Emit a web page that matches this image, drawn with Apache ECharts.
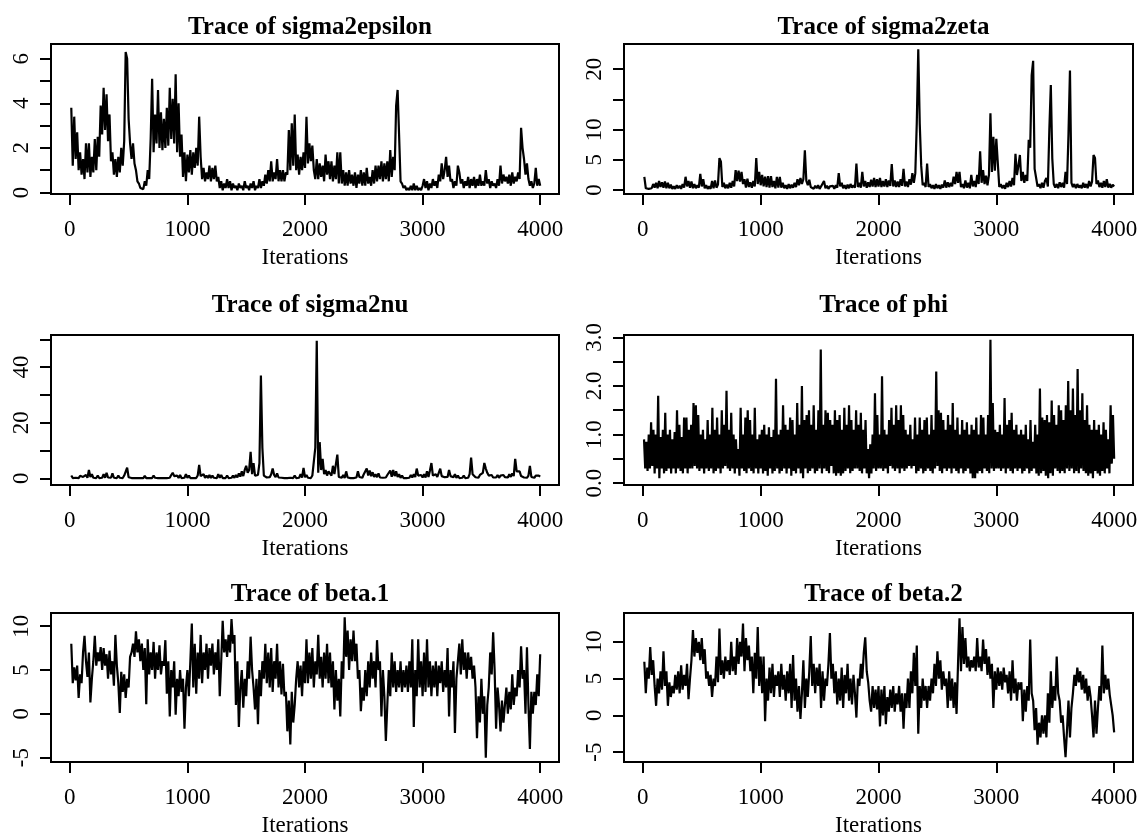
<!DOCTYPE html>
<html>
<head>
<meta charset="utf-8">
<script src="https://cdn.jsdelivr.net/npm/echarts@6/dist/echarts.min.js"></script>
<style>
  html, body { margin: 0; padding: 0; background: #fff; }
  #chart { width: 1144px; height: 838px; }
</style>
</head>
<body>
<div id="chart"></div>
<script>
// MCMC traces; each array spans iterations 1..4000 evenly
// (one row = 200 iterations)
const sigma2epsilon = [
  3.8, 1.2, 3.4, 1.5, 2.7, 1.0, 1.8, 0.8, 1.5, 0.6, 2.2, 0.9, 2.2, 0.7, 1.6, 0.9,
  2.4, 1.0, 2.5, 1.6, 3.9, 2.6, 4.7, 2.8, 4.4, 2.3, 3.5, 1.4, 1.8, 0.8, 1.5, 0.7,
  1.6, 0.9, 2.0, 1.2, 2.3, 6.3, 6.0, 3.3, 2.2, 1.5, 2.2, 1.3, 1.0, 0.5, 0.4, 0.2,
  0.2, 0.15, 0.5, 0.3, 1.0, 0.6, 2.4, 5.1, 1.8, 3.5, 2.2, 4.6, 2.0, 3.6, 1.9, 3.3,
  2.0, 3.8, 2.1, 4.7, 2.4, 4.2, 2.2, 5.3, 1.8, 4.0, 1.6, 2.6, 0.7, 1.8, 0.5, 1.7,
  0.9, 1.9, 0.8, 1.8, 1.1, 2.0, 1.2, 3.4, 1.6, 0.6, 1.1, 0.5, 0.9, 0.6, 1.2, 0.5,
  1.1, 0.6, 1.2, 0.5, 0.7, 0.2, 0.5, 0.1, 0.4, 0.2, 0.6, 0.2, 0.5, 0.1, 0.4, 0.2,
  0.3, 0.1, 0.4, 0.2, 0.3, 0.1, 0.5, 0.2, 0.3, 0.1, 0.4, 0.2, 0.5, 0.1, 0.3, 0.2,
  0.6, 0.2, 0.5, 0.3, 0.8, 0.4, 1.0, 0.5, 1.4, 0.5, 0.9, 0.6, 1.5, 0.5, 1.0, 0.5,
  1.0, 0.5, 0.9, 0.8, 2.8, 1.0, 3.1, 1.2, 3.5, 1.0, 1.7, 0.8, 1.6, 1.0, 1.8, 1.1,
  3.4, 1.3, 2.2, 1.4, 2.1, 1.0, 0.6, 1.5, 0.6, 1.3, 0.7, 1.2, 0.5, 1.7, 0.8, 1.4,
  0.6, 1.4, 0.5, 1.2, 0.6, 1.8, 0.4, 1.8, 0.4, 1.0, 0.3, 0.9, 0.3, 1.0, 0.4, 0.8,
  0.3, 0.9, 0.2, 0.8, 0.4, 1.0, 0.3, 0.9, 0.3, 1.1, 0.4, 0.7, 0.3, 1.0, 0.4, 1.2,
  0.5, 1.2, 0.6, 1.4, 0.5, 1.3, 0.6, 1.4, 0.5, 1.9, 0.7, 1.6, 1.0, 3.9, 4.6, 2.6,
  0.5, 0.4, 0.2, 0.3, 0.1, 0.2, 0.1, 0.3, 0.1, 0.4, 0.1, 0.3, 0.1, 0.2, 0.1, 0.3,
  0.6, 0.2, 0.5, 0.1, 0.4, 0.2, 0.6, 0.3, 0.5, 0.2, 0.8, 0.5, 1.3, 0.6, 1.0, 1.6,
  0.7, 1.2, 0.5, 0.6, 0.2, 0.5, 0.3, 1.2, 0.9, 0.4, 0.6, 0.2, 0.5, 0.3, 0.7, 0.2,
  0.6, 0.3, 0.7, 0.2, 0.6, 0.3, 0.8, 0.3, 0.5, 0.3, 1.0, 0.4, 0.6, 0.2, 0.5, 0.3,
  0.4, 0.2, 0.6, 0.3, 1.2, 0.4, 0.8, 0.5, 0.7, 0.4, 0.8, 0.3, 0.9, 0.4, 0.7, 0.5,
  0.9, 0.6, 2.9, 2.0, 1.5, 0.8, 1.3, 0.6, 0.3, 0.5, 0.2, 0.4, 1.1, 0.3, 0.6, 0.3
];
const sigma2zeta = [
  2.2, 0.3, 0.6, 0.2, 0.5, 0.3, 1.0, 0.4, 1.2, 0.3, 1.5, 0.5, 1.3, 0.4, 1.4, 0.3,
  1.2, 0.3, 0.9, 0.2, 0.6, 0.2, 0.8, 0.3, 0.7, 0.2, 1.0, 0.4, 2.2, 0.6, 1.5, 0.4,
  1.4, 0.3, 1.0, 0.3, 0.8, 0.4, 2.7, 0.6, 1.8, 0.3, 0.8, 0.2, 0.6, 0.2, 1.5, 0.3,
  1.6, 0.4, 0.9, 5.3, 4.7, 0.5, 1.2, 0.3, 0.9, 0.3, 1.2, 0.4, 1.5, 0.6, 3.3, 1.5,
  3.2, 1.4, 3.0, 1.0, 1.8, 0.4, 1.9, 0.5, 1.3, 0.4, 1.5, 0.6, 5.3, 1.0, 3.0, 0.8,
  2.5, 0.6, 2.2, 0.5, 2.3, 0.4, 2.3, 0.5, 1.5, 0.3, 2.2, 0.4, 2.2, 0.4, 1.2, 0.3,
  0.8, 0.2, 1.0, 0.3, 0.9, 0.4, 1.2, 0.5, 1.8, 0.8, 2.0, 1.0, 1.8, 6.6, 1.5, 0.8,
  1.7, 0.5, 0.8, 0.2, 0.7, 0.3, 0.8, 0.2, 0.6, 0.3, 1.5, 0.3, 0.7, 0.2, 0.6, 0.3,
  0.7, 0.2, 0.8, 0.4, 2.8, 0.6, 1.2, 0.3, 0.8, 0.2, 0.9, 0.3, 1.0, 0.4, 0.8, 0.4,
  4.4, 0.5, 1.2, 0.4, 3.0, 0.6, 1.5, 0.4, 1.3, 0.5, 1.7, 0.6, 2.0, 0.5, 1.8, 0.6,
  2.0, 0.5, 1.5, 0.6, 1.8, 0.5, 1.6, 0.7, 4.3, 0.6, 1.6, 0.5, 1.4, 0.5, 1.8, 0.7,
  3.5, 0.6, 1.4, 0.5, 1.8, 0.9, 2.8, 1.2, 2.8, 11.2, 23.3, 11.0, 4.0, 0.8, 1.2, 0.5,
  4.4, 0.5, 1.0, 0.3, 0.8, 0.2, 1.0, 0.3, 0.8, 0.2, 0.9, 0.4, 1.6, 0.4, 1.3, 0.5,
  1.2, 0.6, 2.2, 1.0, 3.0, 1.2, 3.0, 0.5, 1.0, 0.3, 1.6, 0.4, 1.2, 0.3, 2.5, 0.6,
  1.5, 0.5, 2.5, 1.0, 6.4, 1.2, 3.3, 1.0, 2.4, 0.8, 2.5, 12.7, 3.0, 8.8, 3.2, 8.5,
  8.6, 0.5, 1.0, 0.3, 0.8, 0.2, 1.2, 0.5, 1.5, 0.6, 2.0, 0.8, 6.0, 2.5, 4.0, 5.8,
  1.5, 3.0, 1.2, 2.5, 1.5, 8.3, 7.0, 19.0, 21.4, 3.5, 3.2, 0.6, 1.0, 0.3, 1.2, 0.4,
  1.5, 2.0, 0.6, 10.0, 17.4, 5.2, 1.0, 0.4, 1.0, 0.3, 1.3, 0.5, 1.2, 0.4, 3.0, 1.0,
  9.3, 19.8, 1.2, 0.5, 1.0, 0.3, 1.0, 0.4, 0.8, 0.3, 1.2, 0.4, 1.0, 0.3, 1.5, 0.6,
  1.4, 5.8, 5.3, 1.0, 1.6, 0.5, 1.2, 0.4, 1.5, 0.5, 1.8, 0.4, 1.0, 0.4, 0.9, 0.6
];
const sigma2nu = [
  1.0, 0.1, 0.8, 0.2, 0.6, 0.1, 0.9, 0.3, 0.5, 0.1, 1.2, 0.2, 3.0, 0.5, 1.5, 0.2,
  0.8, 0.1, 1.0, 0.1, 0.6, 0.2, 1.5, 0.2, 2.0, 0.3, 1.0, 0.2, 1.8, 0.2, 0.9, 0.1,
  1.0, 0.2, 0.6, 0.1, 1.0, 0.3, 3.8, 0.4, 0.8, 0.1, 0.7, 0.1, 0.5, 0.1, 0.7, 0.1,
  0.6, 0.1, 0.9, 0.1, 0.5, 0.1, 0.8, 0.1, 1.0, 0.2, 0.6, 0.1, 0.7, 0.1, 0.5, 0.1,
  0.6, 0.1, 0.8, 0.2, 1.2, 2.0, 0.8, 0.2, 1.0, 0.1, 1.2, 0.1, 0.8, 0.2, 1.5, 0.2,
  1.0, 0.1, 0.8, 0.1, 0.6, 0.1, 1.0, 4.8, 0.8, 0.2, 1.5, 0.2, 1.0, 0.1, 1.2, 0.1,
  1.0, 0.2, 0.8, 0.1, 1.5, 0.2, 1.2, 0.1, 0.8, 0.1, 1.0, 0.1, 0.6, 0.2, 1.0, 0.2,
  1.2, 0.3, 1.8, 0.6, 2.5, 0.8, 3.0, 4.5, 2.0, 3.0, 9.5, 1.5, 5.5, 1.0, 0.8, 1.2,
  5.5, 37.0, 11.0, 1.0, 0.6, 0.3, 0.8, 0.4, 1.5, 3.5, 1.2, 0.4, 1.8, 0.3, 1.0, 0.2,
  0.8, 0.1, 0.6, 0.1, 0.8, 0.2, 0.5, 0.1, 1.0, 0.1, 0.6, 0.2, 1.5, 0.3, 3.7, 0.4,
  1.2, 0.2, 0.8, 0.1, 1.0, 0.5, 11.0, 49.5, 2.0, 13.0, 3.0, 7.0, 1.5, 3.0, 1.0, 2.5,
  3.0, 1.0, 4.5, 1.5, 5.0, 8.5, 0.5, 1.0, 0.2, 1.2, 0.1, 2.5, 0.3, 1.0, 0.1, 0.6,
  0.1, 0.8, 0.3, 2.5, 0.5, 1.0, 0.2, 1.5, 0.8, 3.5, 1.0, 2.8, 0.8, 2.2, 0.5, 1.5,
  0.4, 1.8, 0.3, 1.0, 0.2, 0.8, 0.3, 1.2, 0.5, 2.8, 0.6, 3.0, 0.8, 2.5, 0.5, 1.5,
  0.2, 1.0, 0.1, 0.8, 0.1, 0.6, 0.2, 1.2, 0.3, 1.5, 0.5, 3.5, 1.0, 0.5, 1.2, 0.3,
  1.5, 0.3, 2.5, 0.5, 2.8, 5.5, 1.0, 0.4, 1.5, 0.5, 2.0, 3.5, 0.8, 1.5, 0.4, 1.0,
  0.5, 3.0, 0.8, 1.5, 0.4, 1.5, 0.2, 1.0, 0.1, 0.8, 0.2, 1.0, 0.1, 0.8, 0.2, 1.5,
  7.5, 1.5, 1.0, 0.4, 0.8, 0.2, 1.2, 0.5, 2.0, 5.5, 3.5, 2.0, 1.0, 0.5, 1.2, 0.3,
  1.0, 0.3, 1.2, 0.2, 1.0, 0.3, 1.2, 0.4, 1.0, 0.3, 1.5, 0.5, 1.8, 0.8, 7.0, 2.5,
  2.0, 2.5, 0.8, 1.2, 0.3, 1.0, 0.2, 1.0, 4.5, 0.5, 1.2, 0.2, 1.0, 0.3, 1.0, 0.6
];
const phi = [
  0.9, 0.3, 0.85, 0.25, 1.0, 0.3, 1.25, 0.35, 1.1, 0.2, 1.0, 0.3, 1.8, 0.1, 0.95, 0.3, 1.1, 0.2, 1.45, 0.25,
  1.0, 0.3, 1.1, 0.2, 0.9, 0.3, 1.05, 0.2, 1.5, 0.3, 1.2, 0.25, 0.95, 0.2, 1.35, 0.3, 1.35, 0.2, 1.1, 0.3,
  1.2, 0.3, 1.65, 0.35, 1.6, 0.3, 1.4, 0.25, 1.0, 0.3, 1.1, 0.2, 0.9, 0.3, 1.3, 0.25, 1.0, 0.3, 1.55, 0.2,
  1.1, 0.25, 1.35, 0.3, 1.0, 0.2, 1.5, 0.3, 1.2, 0.35, 1.9, 0.3, 1.1, 0.25, 1.45, 0.3, 1.0, 0.2, 0.9, 0.3,
  0.7, 0.15, 1.55, 0.3, 1.0, 0.25, 1.35, 0.2, 1.5, 0.3, 1.3, 0.25, 1.0, 0.2, 1.55, 0.3, 0.9, 0.2, 1.0, 0.3,
  1.1, 0.2, 1.2, 0.25, 1.0, 0.15, 1.15, 0.3, 0.95, 0.2, 1.1, 0.25, 2.15, 0.3, 1.0, 0.2, 1.1, 0.25, 1.6, 0.3,
  1.2, 0.2, 1.1, 0.3, 1.35, 0.15, 1.3, 0.25, 1.0, 0.2, 1.65, 0.3, 1.2, 0.2, 2.0, 0.1, 1.3, 0.3, 1.4, 0.2,
  1.5, 0.25, 1.2, 0.3, 1.6, 0.2, 1.1, 0.25, 1.5, 0.3, 2.75, 0.2, 1.2, 0.3, 1.5, 0.25, 1.45, 0.2, 1.3, 0.35,
  1.2, 0.2, 1.5, 0.15, 1.3, 0.2, 1.4, 0.15, 1.1, 0.2, 1.55, 0.25, 1.2, 0.3, 1.6, 0.2, 1.3, 0.25, 1.1, 0.3,
  1.5, 0.3, 1.2, 0.25, 1.45, 0.2, 1.1, 0.3, 1.3, 0.2, 0.7, 0.1, 0.8, 0.2, 1.0, 0.3, 1.85, 0.25, 1.4, 0.3,
  1.0, 0.3, 2.2, 0.25, 1.1, 0.3, 1.0, 0.2, 1.3, 0.35, 1.55, 0.3, 1.2, 0.25, 1.6, 0.3, 1.3, 0.2, 1.6, 0.3,
  1.4, 0.25, 1.1, 0.3, 1.0, 0.35, 1.2, 0.3, 0.9, 0.35, 1.35, 0.2, 1.0, 0.25, 1.35, 0.3, 1.1, 0.2, 1.3, 0.25,
  1.35, 0.3, 1.0, 0.25, 1.4, 0.2, 1.1, 0.3, 2.3, 0.35, 1.5, 0.25, 1.45, 0.2, 1.3, 0.3, 1.1, 0.25, 1.4, 0.3,
  1.2, 0.2, 1.65, 0.3, 1.1, 0.25, 1.35, 0.2, 1.0, 0.3, 1.3, 0.2, 1.1, 0.25, 1.25, 0.3, 1.0, 0.2, 1.2, 0.1,
  1.1, 0.1, 1.35, 0.2, 1.0, 0.25, 1.4, 0.2, 1.35, 0.3, 1.0, 0.25, 1.4, 0.2, 2.95, 0.3, 1.65, 0.25, 1.1, 0.3,
  1.05, 0.3, 1.2, 0.25, 1.0, 0.3, 1.75, 0.2, 1.2, 0.3, 1.3, 0.25, 1.45, 0.2, 1.1, 0.3, 1.2, 0.25, 1.0, 0.3,
  1.1, 0.2, 1.0, 0.25, 1.2, 0.3, 0.9, 0.2, 1.3, 0.25, 0.85, 0.3, 1.2, 0.2, 1.0, 0.15, 1.95, 0.2, 1.35, 0.25,
  1.3, 0.15, 1.4, 0.1, 1.25, 0.2, 1.7, 0.15, 1.4, 0.3, 1.2, 0.25, 1.6, 0.2, 1.5, 0.25, 1.3, 0.2, 1.6, 0.3,
  2.1, 0.25, 1.5, 0.3, 1.95, 0.2, 1.4, 0.25, 2.35, 0.2, 1.5, 0.3, 1.85, 0.25, 1.3, 0.2, 1.6, 0.15, 1.2, 0.2,
  1.1, 0.1, 1.3, 0.25, 1.1, 0.2, 1.2, 0.15, 1.0, 0.25, 1.25, 0.2, 1.1, 0.3, 0.9, 0.2, 1.6, 0.4, 1.4, 0.5
];
const beta1 = [
  8.0, 3.5, 5.3, 3.8, 5.5, 1.8, 4.5, 3.5, 7.0, 8.9, 6.0, 4.2, 7.0, 1.3, 4.0, 6.0,
  8.9, 5.5, 7.0, 6.0, 7.6, 5.0, 7.5, 5.5, 6.8, 4.0, 7.2, 4.5, 6.0, 3.2, 9.0, 5.5,
  3.5, 0.1, 4.8, 2.5, 4.5, 1.8, 4.0, 3.0, 6.5, 7.0, 8.0, 6.5, 9.4, 7.0, 8.5, 6.0,
  8.0, 5.0, 7.5, 1.1, 8.5, 4.5, 7.0, 5.0, 8.2, 4.0, 7.0, 5.0, 7.8, 4.5, 6.0, 5.5,
  8.4, 2.3, 6.0, -0.3, 5.0, 3.0, 6.0, -0.1, 4.0, 2.0, 5.0, 2.5, 4.0, -1.7, 3.0, 5.0,
  2.0, 6.0, 10.3, 3.0, 8.0, 2.3, 7.0, 4.0, 9.0, 3.5, 7.0, 5.0, 8.0, 4.0, 7.5, 5.5,
  8.0, 4.5, 7.0, 5.0, 8.5, 2.0, 6.0, 10.6, 7.0, 8.5, 6.5, 9.0, 7.0, 10.8, 8.0, 9.0,
  1.0, 6.0, -1.5, 3.0, 5.0, 0.7, 4.0, 2.0, 6.0, 4.0, 8.8, 5.0, 3.0, 0.5, 4.0, -1.2,
  5.0, 2.0, 6.0, 4.0, 8.0, 3.5, 7.0, 3.0, 7.5, 2.5, 6.0, 4.0, 8.0, 3.0, 6.0, 2.2,
  5.7, 2.0, 2.5, -2.0, 1.5, -3.5, 2.5, -1.0, 1.0, 4.0, 6.0, 3.0, 5.5, 2.0, 6.0, 3.5,
  8.5, 3.5, 7.0, 4.0, 7.5, 3.0, 6.0, 4.5, 9.0, 4.0, 6.5, 3.0, 7.0, 4.0, 8.0, 3.5,
  7.0, 3.0, 6.0, 0.5, 5.0, 1.5, 4.0, -0.3, 6.0, 4.0, 11.0, 6.5, 9.5, 5.0, 8.5, 6.0,
  9.5, 6.0, 8.0, 4.0, 5.0, 0.3, 3.0, 1.5, 5.0, 2.0, 6.0, 3.0, 7.0, 4.0, 6.0, 3.0,
  8.4, 5.0, 6.0, -0.3, 5.0, 2.0, -3.1, 1.0, 5.0, 2.0, 7.0, 3.0, 6.0, 2.5, 5.0, 3.0,
  6.0, 2.5, 5.0, 3.0, 5.5, 2.5, 6.0, 3.0, 8.5, -1.5, 5.0, 2.0, 8.5, 3.0, 6.0, 2.0,
  7.0, 2.5, 8.5, 3.0, 6.0, 2.0, 5.5, 3.0, 6.0, 2.0, 5.5, 3.5, 6.0, 2.5, 5.0, 3.0,
  7.5, -0.3, 5.0, 3.0, 6.0, -2.2, 4.0, 6.0, 8.0, 4.5, 8.5, 5.0, 7.0, 4.0, 7.0, 5.0,
  6.5, 4.0, 5.5, 3.0, -2.8, 2.0, -1.0, 4.0, 0.0, 2.0, -5.0, 1.0, 3.0, 7.0, 4.5, 9.3,
  5.0, -1.7, 3.0, 1.0, -2.0, 1.5, -1.0, 1.0, 3.0, 0.0, 2.5, 0.5, 4.5, 1.0, 3.0, 2.0,
  5.0, 3.0, 7.7, 4.0, 5.0, 0.0, 7.6, 1.0, -4.0, 2.5, 0.0, 2.5, 1.0, 4.5, 2.0, 6.8
];
const beta2 = [
  7.3, 3.0, 6.5, 5.0, 9.3, 5.5, 7.5, 4.0, 1.3, 5.0, 3.0, 6.0, 3.5, 8.7, 4.0, 6.0,
  1.3, 4.5, 2.5, 4.0, 3.0, 5.5, 3.5, 6.0, 3.0, 6.8, 3.5, 5.5, 4.0, 7.0, 2.2, 5.0,
  7.5, 11.6, 8.0, 10.5, 8.5, 10.0, 7.5, 10.5, 7.0, 9.0, 5.0, 6.0, 4.0, 5.5, 2.5, 5.0,
  4.0, 8.0, 4.5, 11.8, 5.5, 7.5, 5.0, 8.0, 6.0, 7.5, 5.5, 10.0, 6.0, 8.0, 5.5, 10.5,
  7.0, 10.0, 8.0, 12.5, 6.0, 10.5, 7.5, 9.5, 6.0, 8.0, 3.0, 8.5, 5.0, 12.0, 4.0, 8.0,
  3.0, 8.0, -0.8, 5.0, 2.0, 6.5, 3.0, 7.0, 2.5, 5.5, 4.0, 6.0, 2.5, 7.0, 3.5, 5.5,
  2.0, 6.0, 3.0, 7.0, 1.0, 8.2, 2.0, 5.0, 0.5, 4.0, -0.5, 3.0, 7.5, 1.0, 5.0, 2.5,
  6.0, 10.8, 4.0, 7.0, 3.0, 6.5, 4.0, 7.0, 1.0, 6.0, 2.0, 5.0, 4.0, 7.0, 11.2, 5.0,
  7.0, 3.0, 6.0, 1.5, 5.0, 2.0, 6.5, 1.0, 5.5, 3.0, 7.0, 2.0, 5.0, 1.5, 5.5, 3.0,
  -0.3, 5.0, 4.0, 7.0, 5.0, 8.5, 10.6, 6.0, 4.5, 2.0, 0.5, 4.0, 1.0, 3.5, 0.8, 4.0,
  -1.5, 3.5, 0.0, 4.0, -1.2, 2.5, 0.5, 3.5, 1.0, 4.0, 0.5, 3.0, 1.5, 4.0, 0.5, 3.0,
  -1.8, 3.0, 1.0, 5.0, 1.0, 6.0, 3.0, 8.5, 4.0, 9.5, -2.5, 4.0, 1.0, 5.0, 2.0, 4.0,
  1.0, 4.0, 2.0, 5.0, 3.0, 7.0, 4.0, 8.7, 5.0, 7.5, 3.5, 6.0, 4.0, 5.0, 1.0, 6.0,
  2.0, 5.0, 1.0, 4.5, 0.2, 7.0, 13.2, 6.0, 12.0, 7.0, 10.5, 6.5, 8.0, 6.0, 7.5, 6.5,
  8.0, 6.0, 10.5, 6.5, 8.0, 6.0, 10.3, 7.0, 9.0, 5.5, 8.0, 5.0, 7.0, 1.0, 6.0, 3.5,
  6.5, 4.0, 6.0, 3.5, 6.5, 4.5, 5.5, 3.0, 6.0, 2.0, 7.5, 3.0, 5.0, 2.0, 4.5, 3.5,
  4.5, -0.8, 3.5, 0.5, 4.0, 2.0, 10.3, 3.0, 2.0, -2.0, 1.0, -4.0, -1.0, -3.0, 0.0, -2.5,
  0.0, -3.0, 3.0, -1.0, 6.0, 1.0, 4.0, 2.0, 8.0, 3.0, 2.0, -1.0, 0.0, -3.0, -5.7, -2.0,
  2.0, -3.0, 1.0, 3.0, 5.5, 4.0, 6.5, 4.5, 6.0, 3.5, 5.5, 3.0, 5.0, 2.0, 4.0, 2.5,
  0.0, -3.0, 2.0, -2.5, 1.0, 4.0, 2.0, 9.5, 3.0, 5.5, 3.5, 5.0, 2.8, 3.0, 0.0, -2.3
];

// axis ticks / labels
const iterTicks = [0, 1000, 2000, 3000, 4000];
const eps_ticks = [0, 1, 2, 3, 4, 5, 6], eps_labels = [0, 2, 4, 6];
const zeta_ticks = [0, 5, 10, 15, 20], zeta_labels = [0, 5, 10, 20];
const nu_ticks = [0, 10, 20, 30, 40, 50], nu_labels = [0, 20, 40];
const phi_ticks = [0, 0.5, 1, 1.5, 2, 2.5, 3], phi_labels = [0, 1, 2, 3];
const beta_ticks = [-5, 0, 5, 10], beta_labels = [-5, 0, 5, 10];

const FONT = '"Liberation Serif", "Times New Roman", serif';

const panels = [
  { name: 'sigma2epsilon', data: sigma2epsilon, min: -0.07, max: 6.66, ticks: eps_ticks, labels: eps_labels, dec: 0 },
  { name: 'sigma2zeta', data: sigma2zeta, min: -0.65, max: 24.17, ticks: zeta_ticks, labels: zeta_labels, dec: 0 },
  { name: 'sigma2nu', data: sigma2nu, min: -2.4, max: 51.55, ticks: nu_ticks, labels: nu_labels, dec: 0 },
  { name: 'phi', data: phi, min: -0.04, max: 3.05, ticks: phi_ticks, labels: phi_labels, dec: 1 },
  { name: 'beta.1', data: beta1, min: -5.5, max: 11.5, ticks: beta_ticks, labels: beta_labels, dec: 0 },
  { name: 'beta.2', data: beta2, min: -6.34, max: 13.92, ticks: beta_ticks, labels: beta_labels, dec: 0 }
];

// plot boxes (px)
const colLeft = [51, 624], colWidth = [508, 509];
const rowTop = [44, 335, 613], rowHeight = [150, 150, 151];
const titleTop = [10, 288, 577];

const chart = echarts.init(document.getElementById('chart'), null, { renderer: 'canvas' });

const grid = [], xAxis = [], yAxis = [], series = [], title = [];
panels.forEach((p, k) => {
  const c = k % 2, r = Math.floor(k / 2);
  grid.push({
    left: colLeft[c], top: rowTop[r], width: colWidth[c], height: rowHeight[r],
    show: true, borderColor: '#000', borderWidth: 2, backgroundColor: 'transparent'
  });
  title.push({
    text: 'Trace of ' + p.name,
    left: colLeft[c] + colWidth[c] / 2, top: titleTop[r], textAlign: 'center',
    textStyle: { fontFamily: FONT, fontSize: 25, fontWeight: 'bold', color: '#000' }
  });
  xAxis.push({
    type: 'value', gridIndex: k, min: -160, max: 4160,
    name: 'Iterations', nameLocation: 'middle', nameGap: 52,
    nameTextStyle: { fontFamily: FONT, fontSize: 23, color: '#000' },
    axisLine: { show: false, onZero: false },
    axisTick: { show: true, length: 11, lineStyle: { color: '#000', width: 2 }, customValues: iterTicks },
    axisLabel: {
      customValues: iterTicks, fontFamily: FONT, fontSize: 23, color: '#000', margin: 24,
      formatter: v => String(v)
    },
    splitLine: { show: false }
  });
  yAxis.push({
    type: 'value', gridIndex: k, min: p.min, max: p.max,
    axisLine: { show: false, onZero: false },
    axisTick: { show: true, length: 11, lineStyle: { color: '#000', width: 2 }, customValues: p.ticks },
    axisLabel: {
      customValues: p.labels, rotate: 90, fontFamily: FONT, fontSize: 23, color: '#000', margin: 18,
      formatter: v => Number(v).toFixed(p.dec)
    },
    splitLine: { show: false }
  });
  series.push({
    type: 'line', xAxisIndex: k, yAxisIndex: k,
    showSymbol: false, symbol: 'none',
    lineStyle: { color: '#000', width: 2.2 },
    data: p.data.map((v, i) => [(i + 1) * 4000 / p.data.length, v])
  });
});

chart.setOption({
  animation: false,
  backgroundColor: '#fff',
  title, grid, xAxis, yAxis, series
});
</script>
</body>
</html>
